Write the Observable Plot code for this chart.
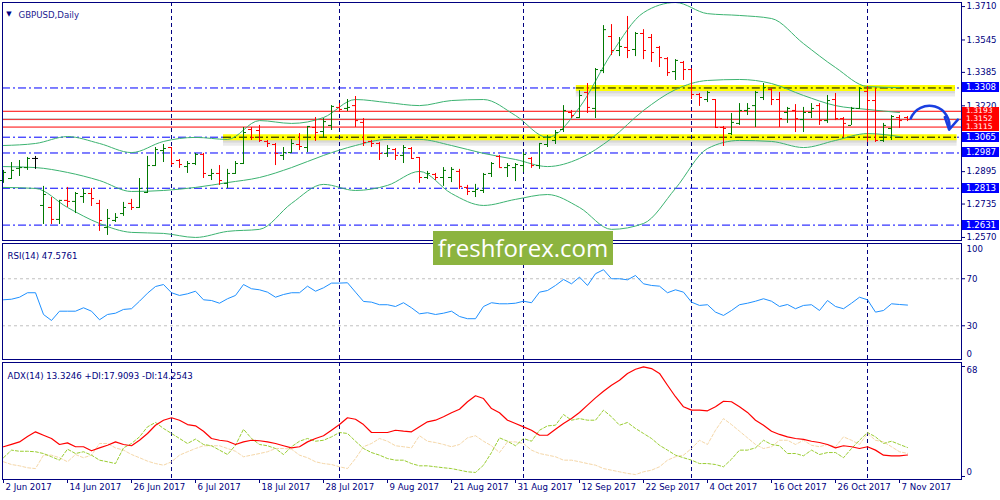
<!DOCTYPE html>
<html><head><meta charset="utf-8">
<script src="https://cdn.jsdelivr.net/npm/d3@7"></script>
<script src="https://cdn.jsdelivr.net/npm/@observablehq/plot@0.6"></script>
<style>
body{margin:0;background:#fff;}
#wrap{position:relative;width:1000px;height:500px;overflow:hidden;background:#fff;}
.lbl{position:absolute;left:962px;width:37px;height:10px;line-height:10px;color:#fff;font-family:"DejaVu Sans",sans-serif;font-size:8.6px;padding-left:4px;box-sizing:border-box;white-space:nowrap;overflow:hidden;}
.lbl.small{height:8px;line-height:8px;font-size:7.6px;}
#wm{position:absolute;left:433px;top:231px;width:180px;height:34px;background:#8cb43f;color:#fff;font-family:"Open Sans",sans-serif;font-size:24px;text-align:center;line-height:33px;}
</style></head><body><div id="wrap"></div><script>
// ---------- data ----------
const title = "GBPUSD,Daily";
const rsiTitle = "RSI(14) 47.5761";
const adxTitle = "ADX(14) 13.3246 +DI:17.9093 -DI:14.2543";
const dateBars = [0,8,16,24,32,40,48,56,64,72,80,88,96,104,112];
const dateLabels = ["2 Jun 2017","14 Jun 2017","26 Jun 2017","6 Jul 2017","18 Jul 2017","28 Jul 2017","9 Aug 2017","21 Aug 2017","31 Aug 2017","12 Sep 2017","22 Sep 2017","4 Oct 2017","16 Oct 2017","26 Oct 2017","7 Nov 2017"];
const monthStarts = [21,42,65,86,108];

const open = [1.2851,1.2861,1.2911,1.2915,1.2960,1.2728,1.2718,1.2659,1.2753,1.2748,
1.2772,1.2787,1.2738,1.2619,1.2654,1.2688,1.2738,1.2718,1.2792,1.2925,
1.2999,1.3014,1.2950,1.2920,1.2935,1.2980,1.2876,1.2886,1.2837,1.2886,
1.2935,1.3103,1.3098,1.3044,1.3029,1.2975,1.2989,1.3029,1.3014,1.3113,
1.3093,1.3123,1.3212,1.3207,1.3221,1.3138,1.3044,1.3034,1.2985,1.3004,
1.2975,1.3009,1.2965,1.2866,1.2881,1.2866,1.2866,1.2896,1.2817,1.2797,
1.2802,1.2886,1.2970,1.2915,1.2915,1.2925,1.2960,1.2925,1.3029,1.3049,
1.3103,1.3187,1.3162,1.3286,1.3207,1.3394,1.3562,1.3493,1.3508,1.3498,
1.3577,1.3557,1.3508,1.3453,1.3389,1.3434,1.3399,1.3276,1.3251,1.3251,
1.3113,1.3083,1.3133,1.3197,1.3221,1.3261,1.3300,1.3251,1.3187,1.3197,
1.3152,1.3187,1.3221,1.3147,1.3251,1.3157,1.3123,1.3207,1.3291,1.3246,
1.3049,1.3108,1.3162,1.3162];
const high = [1.2901,1.2940,1.2950,1.2965,1.2970,1.2822,1.2767,1.2753,1.2817,1.2792,
1.2807,1.2812,1.2753,1.2708,1.2688,1.2743,1.2758,1.2861,1.2970,1.3014,
1.3029,1.3014,1.2955,1.2945,1.2985,1.2985,1.2906,1.2925,1.2906,1.2945,
1.3113,1.3113,1.3123,1.3049,1.3034,1.3014,1.3054,1.3083,1.3118,1.3162,
1.3157,1.3221,1.3231,1.3251,1.3266,1.3157,1.3049,1.3039,1.3024,1.3009,
1.3024,1.3014,1.2965,1.2896,1.2886,1.2915,1.2915,1.2906,1.2827,1.2832,
1.2886,1.2940,1.2975,1.2935,1.2935,1.2989,1.2965,1.3034,1.3073,1.3098,
1.3221,1.3197,1.3295,1.3330,1.3404,1.3616,1.3621,1.3557,1.3661,1.3582,
1.3596,1.3572,1.3513,1.3458,1.3448,1.3439,1.3404,1.3281,1.3291,1.3251,
1.3118,1.3182,1.3231,1.3231,1.3291,1.3330,1.3305,1.3286,1.3212,1.3226,
1.3212,1.3231,1.3231,1.3271,1.3281,1.3162,1.3212,1.3310,1.3315,1.3305,
1.3133,1.3172,1.3172,1.3167];
const low = [1.2837,1.2856,1.2871,1.2901,1.2906,1.2634,1.2634,1.2634,1.2718,1.2688,
1.2738,1.2723,1.2600,1.2580,1.2644,1.2674,1.2703,1.2713,1.2787,1.2920,
1.2940,1.2925,1.2911,1.2886,1.2925,1.2861,1.2851,1.2827,1.2812,1.2881,
1.2930,1.3049,1.3039,1.3014,1.2925,1.2950,1.2985,1.2999,1.2989,1.3044,
1.3059,1.3098,1.3187,1.3192,1.3113,1.3019,1.3014,1.2950,1.2965,1.2950,
1.2935,1.2955,1.2837,1.2856,1.2851,1.2822,1.2841,1.2807,1.2777,1.2767,
1.2787,1.2866,1.2915,1.2866,1.2846,1.2891,1.2911,1.2906,1.3014,1.3029,
1.3088,1.3157,1.3157,1.3182,1.3157,1.3379,1.3468,1.3463,1.3453,1.3463,
1.3448,1.3434,1.3409,1.3365,1.3345,1.3345,1.3251,1.3217,1.3236,1.3108,
1.3019,1.3073,1.3123,1.3172,1.3113,1.3246,1.3221,1.3113,1.3133,1.3088,
1.3088,1.3157,1.3123,1.3133,1.3147,1.3064,1.3123,1.3202,1.3039,1.3039,
1.3039,1.3049,1.3108,1.3142];
const close = [1.2891,1.2901,1.2915,1.2960,1.2960,1.2782,1.2659,1.2753,1.2748,1.2787,
1.2787,1.2762,1.2654,1.2664,1.2669,1.2718,1.2718,1.2812,1.2925,1.3004,
1.3009,1.2935,1.2930,1.2935,1.2980,1.2886,1.2886,1.2851,1.2886,1.2935,
1.3088,1.3064,1.3049,1.3034,1.2985,1.2989,1.3034,1.3019,1.3118,1.3088,
1.3142,1.3217,1.3202,1.3212,1.3147,1.3039,1.3034,1.2985,1.3009,1.2975,
1.3014,1.2960,1.2866,1.2886,1.2866,1.2901,1.2906,1.2822,1.2797,1.2807,
1.2881,1.2935,1.2915,1.2925,1.2930,1.2980,1.2925,1.3034,1.3064,1.3088,
1.3197,1.3172,1.3271,1.3212,1.3399,1.3596,1.3493,1.3513,1.3493,1.3577,
1.3493,1.3483,1.3458,1.3384,1.3444,1.3399,1.3276,1.3261,1.3286,1.3113,
1.3108,1.3138,1.3197,1.3207,1.3286,1.3310,1.3251,1.3157,1.3207,1.3157,
1.3187,1.3207,1.3147,1.3246,1.3157,1.3133,1.3207,1.3305,1.3246,1.3049,
1.3123,1.3167,1.3147,1.3152];

const bbBars = [0,4,8,12,16,20,24,28,32,36,40,44,48,52,56,60,64,68,72,76,80,84,88,92,96,100,104,108,112];
const bbUpper = [1.3024,1.3034,1.3068,1.3034,1.2989,1.3044,1.3064,1.3054,1.3147,1.3133,1.3162,1.3251,1.3236,1.3221,1.3246,1.3251,1.3172,1.3064,1.3212,1.3478,1.3680,1.3730,1.3675,1.3666,1.3651,1.3527,1.3409,1.3315,1.3310];
const bbMiddle = [1.2920,1.2915,1.2891,1.2851,1.2797,1.2802,1.2817,1.2841,1.2866,1.2915,1.2975,1.3024,1.3054,1.3054,1.3024,1.2985,1.2955,1.2920,1.2960,1.3059,1.3197,1.3300,1.3345,1.3350,1.3330,1.3271,1.3221,1.3202,1.3187];
const bbLower = [1.2817,1.2812,1.2718,1.2639,1.2595,1.2590,1.2570,1.2600,1.2610,1.2738,1.2832,1.2802,1.2827,1.2896,1.2787,1.2728,1.2758,1.2782,1.2718,1.2610,1.2639,1.2812,1.3009,1.3049,1.3044,1.3014,1.3049,1.3083,1.3068];

const priceTicks = [1.3710,1.3545,1.3385,1.3220,1.3060,1.2895,1.2735,1.2570];
const blueLevels = [1.3308,1.3065,1.2987,1.2813,1.2631];
const redLevels = [1.3193,1.3152,1.3115];
const bidPrice = 1.3156;
const zonePrice = [1.3308,1.3065];
const zoneFrom = [71.6,27.5];
const zoneTo = [119,119.2];
const arrowFrom = {bar:113.4, price:1.3157};
const arrowTo = {bar:118.2, price:1.3102};

const rsi = [52.1,52.6,54.3,58.1,58.1,39.6,34.5,42.4,42.4,42.4,
45.3,42.4,35.1,39.6,40.7,43.9,44.5,50.9,57.7,63.4,
65.1,58.1,55.8,57.2,59.4,52.1,51.5,49.2,53.0,55.8,
65.1,61.5,60.6,58.6,54.3,56.6,58.1,58.1,63.7,59.4,
62.3,66.3,66.3,66.6,58.6,50.7,50.1,47.9,47.9,46.4,
49.6,45.3,40.2,41.1,39.6,40.7,42.4,37.9,36.0,36.0,
46.4,49.6,48.7,48.7,49.2,50.9,49.6,58.6,60.0,64.3,
69.4,65.7,71.4,64.3,74.3,77.7,70.0,70.0,69.1,72.8,
65.7,64.3,63.7,58.1,60.6,58.6,50.1,47.3,47.9,41.6,
38.8,43.0,47.9,49.2,50.9,53.0,50.9,46.4,48.1,44.5,
47.3,47.9,43.0,51.5,46.4,44.5,49.2,54.3,52.1,41.6,
43.0,48.7,48.1,47.6];
const rsiTicks = [100,70,30,0];
const rsiLevels = [70,30];

const adx = [18.4,19.9,21.4,24.7,27.6,25.5,23.5,19.8,20.8,18.4,
18.4,15.9,17.7,19.3,21.4,19.8,19.0,22.4,26.6,31.7,
34.8,36.3,34.8,32.1,31.3,28.0,23.5,22.4,21.8,19.8,
21.4,22.4,22.1,21.4,20.4,19.0,17.7,18.4,21.4,23.5,
25.2,28.6,32.1,36.3,35.4,32.1,27.2,27.2,27.2,28.6,
28.0,27.6,30.7,33.8,34.8,36.9,39.4,41.6,46.2,49.9,
48.2,42.0,39.4,34.8,32.8,30.7,28.6,25.5,25.5,29.2,
32.8,35.8,39.6,44.1,48.6,52.7,56.4,59.5,63.7,66.3,
67.8,66.7,63.7,56.4,49.3,43.1,41.0,41.0,40.6,43.1,
46.5,46.2,43.1,39.6,34.8,31.7,28.0,26.0,24.5,23.5,
22.9,21.8,21.0,19.8,17.7,19.0,18.4,17.3,18.4,16.3,
13.2,12.8,12.8,13.3];
const plusDI = [11.6,16.3,15.6,15.6,15.3,14.2,12.2,10.1,16.9,14.2,
15.3,13.2,10.1,9.1,8.0,17.7,20.4,24.5,30.7,33.4,
29.7,26.6,23.5,20.4,23.1,19.8,19.0,16.3,13.6,19.3,
29.2,23.5,19.8,19.0,17.3,13.6,18.4,21.8,23.5,21.8,
22.4,24.5,27.2,26.6,21.8,17.3,14.8,13.2,11.1,10.1,
10.1,8.0,6.6,6.6,6.0,5.4,4.9,3.9,2.9,2.5,
7.0,14.8,23.9,21.8,19.0,23.5,21.8,28.6,31.3,31.7,
38.3,34.8,35.8,34.8,34.8,41.0,36.9,31.7,33.4,29.7,
26.6,23.5,19.3,16.3,13.2,11.6,10.1,8.0,8.0,7.4,
6.0,10.7,16.3,16.3,17.7,22.4,19.8,19.0,14.2,14.2,
12.8,16.3,13.6,14.8,14.8,11.6,17.3,22.4,27.2,24.5,
20.4,21.8,19.8,17.9];
const minusDI = [9.1,7.4,6.6,5.4,4.9,13.2,13.2,11.6,9.1,13.6,
11.6,13.2,20.4,20.4,17.7,16.3,13.6,11.6,9.5,8.0,
7.0,9.1,13.2,15.3,17.3,19.0,19.0,19.0,17.3,15.6,
12.2,13.2,14.2,15.3,17.3,17.3,16.9,13.2,11.6,9.1,
8.0,7.4,6.0,4.9,11.1,18.4,20.4,23.5,21.8,19.0,
18.4,17.7,25.2,21.8,21.0,19.8,18.4,19.8,23.9,25.2,
21.8,19.0,14.8,21.4,21.4,20.4,16.3,14.2,13.2,12.2,
10.1,10.1,9.1,8.0,7.0,4.9,3.9,2.9,1.9,1.2,
2.9,3.9,6.0,10.1,12.2,13.2,17.3,22.4,19.8,28.6,
35.8,32.1,28.0,23.9,19.8,17.3,18.4,22.4,22.4,19.8,
22.4,19.3,18.4,19.8,18.4,24.5,22.4,19.8,26.6,22.4,
21.4,18.4,15.3,14.3];
const adxTicks = [68,0];

// ---------- build ----------
const wrap = document.getElementById("wrap");
const xDomain = [-0.125, 119.75];
const navy = "#000080";
const dashDot = "8,3,2,3";
const baseStyle = {fontFamily: "DejaVu Sans", fontSize: "8.6px", color: navy, background: "white"};

const bars = open.map((o, i) => ({i, o, h: high[i], l: low[i], c: close[i]}));
const barColor = d => d.c > d.o ? "#007800" : d.c < d.o ? "#ff0000" : "#000000";
const bb = bbBars.map((b, k) => ({b, up: bbUpper[k], mid: bbMiddle[k], lo: bbLower[k]}));
const zones = zonePrice.map((p, k) => ({price: p, from: zoneFrom[k], to: zoneTo[k]}));

function place(svg, top) {
  svg.style.position = "absolute";
  svg.style.left = "0px";
  svg.style.top = top + "px";
  wrap.append(svg);
}

const pricePlot = Plot.plot({
  width: 1000, height: 242, marginLeft: 2, marginRight: 39, marginTop: 2, marginBottom: 2,
  style: baseStyle,
  color: {type: "identity"},
  x: {domain: xDomain, axis: null},
  y: {domain: [1.2555, 1.3730], axis: "right", ticks: priceTicks, tickFormat: d => d.toFixed(4), tickSize: 3, tickPadding: 2, label: null},
  marks: [
    Plot.ruleY(blueLevels, {stroke: "#0000ff", strokeDasharray: dashDot}),
    Plot.ruleY(redLevels, {stroke: "#ff0000"}),
    Plot.ruleY([bidPrice], {stroke: "#c0c0c0"}),
    Plot.ruleY(zones, {y: "price", x1: "from", x2: "to", stroke: "#909090", strokeOpacity: 0.35, strokeWidth: 3, dy: 4}),
    Plot.ruleY(zones, {y: "price", x1: "from", x2: "to", stroke: "#b8b8b8", strokeOpacity: 0.3, strokeWidth: 3, dy: 7}),
    Plot.ruleY(zones, {y: "price", x1: "from", x2: "to", stroke: "#ffff00", strokeWidth: 6}),
    Plot.ruleY(zones, {y: "price", x1: "from", x2: "to", stroke: "#000000", strokeDasharray: dashDot}),
    Plot.ruleX(monthStarts, {stroke: navy, strokeDasharray: "4,3"}),
    Plot.line(bb, {x: "b", y: "up", stroke: "#3cb371", strokeWidth: 1, curve: "monotone-x"}),
    Plot.line(bb, {x: "b", y: "mid", stroke: "#3cb371", strokeWidth: 1, curve: "monotone-x"}),
    Plot.line(bb, {x: "b", y: "lo", stroke: "#3cb371", strokeWidth: 1, curve: "monotone-x"}),
    Plot.ruleX(bars, {x: "i", y1: "l", y2: "h", stroke: barColor}),
    Plot.ruleY(bars, {y: "o", x1: d => d.i - 0.375, x2: "i", stroke: barColor}),
    Plot.ruleY(bars, {y: "c", x1: "i", x2: d => d.i + 0.375, stroke: barColor}),
    Plot.arrow([{a: arrowFrom, b: arrowTo}], {x1: d => d.a.bar, y1: d => d.a.price, x2: d => d.b.bar, y2: d => d.b.price,
      bend: 85, stroke: "#1a3ee0", strokeWidth: 2.5, headLength: 11}),
    Plot.text(["\u25BC"], {frameAnchor: "top-left", textAnchor: "middle", dx: 6.5, dy: 8.5, fontSize: 7, fill: navy}),
    Plot.text([title], {frameAnchor: "top-left", textAnchor: "start", dx: 16, dy: 9, fill: "#1a1a90"}),
    Plot.frame({stroke: navy})
  ]
});
place(pricePlot, 0);

const rsiPlot = Plot.plot({
  width: 1000, height: 118, marginLeft: 2, marginRight: 39, marginTop: 1, marginBottom: 1,
  style: baseStyle,
  x: {domain: xDomain, axis: null},
  y: {domain: [1.3, 100], axis: "right", ticks: rsiLevels, tickSize: 3, tickFormat: () => "", label: null},
  marks: [
    Plot.ruleY(rsiLevels, {stroke: "#c0c0c0", strokeDasharray: "3,3"}),
    Plot.ruleX(monthStarts, {stroke: navy, strokeDasharray: "4,3"}),
    Plot.line(rsi.map((v, i) => ({i, v})), {x: "i", y: "v", stroke: "#1e90ff", strokeWidth: 1}),
    Plot.text([rsiTicks[0]], {y: d => d, text: d => String(d), frameAnchor: "right", textAnchor: "start", dx: 5, dy: 6, fill: navy}),
    Plot.text(rsiTicks.slice(1, 3), {y: d => d, text: d => String(d), frameAnchor: "right", textAnchor: "start", dx: 5, fill: navy}),
    Plot.text([rsiTicks[3]], {y: d => d, text: d => String(d), frameAnchor: "right", textAnchor: "start", dx: 5, dy: -7, fill: navy}),
    Plot.text([rsiTitle], {frameAnchor: "top-left", textAnchor: "start", dx: 5, dy: 9, fill: navy}),
    Plot.frame({stroke: navy})
  ]
});
place(rsiPlot, 242);

const dateRows = dateBars.map((b, k) => ({b, label: dateLabels[k]}));
const adxPlot = Plot.plot({
  width: 1000, height: 140, marginLeft: 2, marginRight: 39, marginTop: 2, marginBottom: 21,
  style: baseStyle,
  x: {domain: xDomain, axis: "bottom", ticks: dateBars, tickSize: 4, tickFormat: () => "", label: null},
  y: {domain: [-1.855, 70.47], axis: "right", ticks: adxTicks, tickSize: 3, tickFormat: () => "", label: null},
  marks: [
    Plot.ruleX(monthStarts, {stroke: navy, strokeDasharray: "4,3"}),
    Plot.line(minusDI.map((v, i) => ({i, v})), {x: "i", y: "v", stroke: "#f5d7a8", strokeWidth: 1, strokeDasharray: "3,2"}),
    Plot.line(plusDI.map((v, i) => ({i, v})), {x: "i", y: "v", stroke: "#9acd32", strokeWidth: 1, strokeDasharray: "3,2"}),
    Plot.line(adx.map((v, i) => ({i, v})), {x: "i", y: "v", stroke: "#ff0000", strokeWidth: 1.2}),
    Plot.text(dateRows, {x: "b", text: "label", frameAnchor: "bottom", textAnchor: "start", dx: 2, dy: 10, fill: navy}),
    Plot.text([adxTicks[0]], {y: d => d, text: d => String(d), frameAnchor: "right", textAnchor: "start", dx: 5, dy: 4, fill: navy}),
    Plot.text([adxTicks[1]], {y: d => d, text: d => String(d), frameAnchor: "right", textAnchor: "start", dx: 5, dy: -4, fill: navy}),
    Plot.text([adxTitle], {frameAnchor: "top-left", textAnchor: "start", dx: 5, dy: 10, fill: navy}),
    Plot.frame({stroke: navy})
  ]
});
place(adxPlot, 360);

// price-axis highlighted level labels
const ys = pricePlot.scale("y");
const boxes = blueLevels.map(v => ({v, color: "#0000ff", small: false})).concat(redLevels.map(v => ({v, color: "#ff0000", small: true})));
boxes.forEach(({v, color, small}) => {
  const d = document.createElement("div");
  d.className = small ? "lbl small" : "lbl";
  d.style.top = (ys.apply(v) - (small ? 4 : 5)) + "px";
  d.style.background = color;
  d.textContent = v.toFixed(4);
  wrap.append(d);
});

const wm = document.createElement("div");
wm.id = "wm";
wm.textContent = "freshforex.com";
wrap.append(wm);
</script></body></html>
